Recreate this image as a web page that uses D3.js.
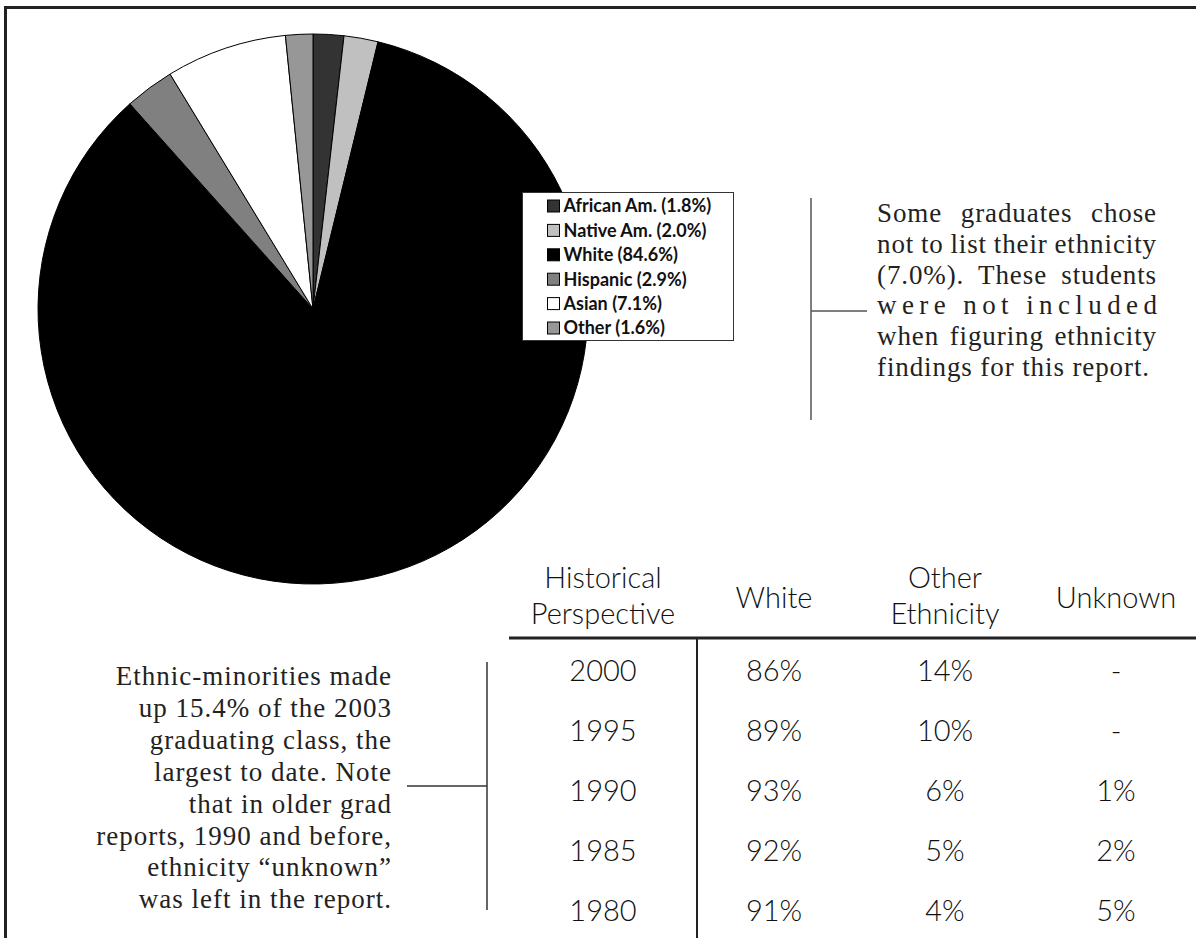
<!DOCTYPE html>
<html lang="en">
<head>
<meta charset="utf-8">
<title>Graduates by ethnicity</title>
<script src="https://d3js.org/d3.v7.min.js"></script>
<style>
  body { margin: 0; background: #fff; }
  svg { display: block; }
</style>
</head>
<body>
<script>
// pie data
var groups = ["African Am.", "Native Am.", "White", "Hispanic", "Asian", "Other"];
var shares = [1.8, 2.0, 84.6, 2.9, 7.1, 1.6];
var shades = ["#333333", "#c0c0c0", "#000000", "#808080", "#ffffff", "#979797"];

// historical table
var tableHead = [["Historical", "Perspective"], ["White"], ["Other", "Ethnicity"], ["Unknown"]];
var years = ["2000", "1995", "1990", "1985", "1980"];
var whitePct = ["86%", "89%", "93%", "92%", "91%"];
var otherPct = ["14%", "10%", "6%", "5%", "4%"];
var unknownPct = ["-", "-", "1%", "2%", "5%"];

var noteRight = ["Some graduates chose", "not to list their ethnicity", "(7.0%). These students",
  "were not included", "when figuring ethnicity", "findings for this report."];
var noteLeft = ["Ethnic-minorities made", "up 15.4% of the 2003", "graduating class, the",
  "largest to date. Note", "that in older grad", "reports, 1990 and before,",
  "ethnicity \u201cunknown\u201d", "was left in the report."];

var W = 1196, H = 938;
var ink = "#222";

var svg = d3.select("body").append("svg")
    .attr("width", W)
    .attr("height", H);

// frame (top and left edges only)
svg.append("path")
    .attr("d", "M5.5," + H + "V7.5H" + W)
    .attr("fill", "none")
    .attr("stroke", ink)
    .attr("stroke-width", 3);

// ---- pie ----
var pie = d3.pie().sort(null).value(function(d) { return d; });
var arc = d3.arc().innerRadius(0).outerRadius(275);

var pieG = svg.append("g").attr("transform", "translate(313,309)");
pieG.selectAll("path")
    .data(pie(shares))
    .enter().append("path")
    .attr("d", arc)
    .attr("fill", function(d, i) { return shades[i]; })
    .attr("stroke", "#000")
    .attr("stroke-width", 1);

// ---- legend ----
var leg = svg.append("g").attr("transform", "translate(522.5,192.5)");
leg.append("rect")
    .attr("width", 211)
    .attr("height", 148)
    .attr("fill", "#fff")
    .attr("stroke", "#333")
    .attr("stroke-width", 1);

var rowY = d3.scalePoint().domain(groups).range([13.5, 135.5]);
var item = leg.selectAll("g.item")
    .data(groups)
    .enter().append("g")
    .attr("class", "item")
    .attr("transform", function(d) { return "translate(0," + rowY(d) + ")"; });
item.append("rect")
    .attr("x", 25)
    .attr("y", -6)
    .attr("width", 12)
    .attr("height", 12)
    .attr("fill", function(d, i) { return shades[i]; })
    .attr("stroke", "#000")
    .attr("stroke-width", 1);
item.append("text")
    .attr("x", 41)
    .attr("dy", "0.36em")
    .attr("font-family", "Lato, 'Open Sans', sans-serif")
    .attr("font-weight", "bold")
    .attr("font-size", 18)
    .attr("fill", "#111")
    .text(function(d, i) { return d + " (" + shares[i].toFixed(1) + "%)"; });

// ---- right note ----
var connR = svg.append("g").attr("stroke", "#555").attr("stroke-width", 1.5);
connR.append("line").attr("x1", 811).attr("x2", 811).attr("y1", 198).attr("y2", 420);
connR.append("line").attr("x1", 811).attr("x2", 867).attr("y1", 311).attr("y2", 311);

var serif = "'Liberation Serif', 'Times New Roman', serif";
svg.append("g").selectAll("text")
    .data(noteRight)
    .enter().append("text")
    .attr("x", 877)
    .attr("y", function(d, i) { return 222 + i * 30.8; })
    .attr("font-family", serif)
    .attr("font-size", 27)
    .attr("letter-spacing", 0.9)
    .attr("fill", ink)
    .text(function(d) { return d; })
    .each(function(d, i) {
      // justify to the column width, last line left as is
      if (i === noteRight.length - 1) return;
      var t = d3.select(this);
      var natural = this.getComputedTextLength();
      var gaps = d.split(" ").length - 1;
      var extra = 280 - natural;
      if (extra / gaps > 25) {
        t.attr("letter-spacing", null).attr("textLength", 280).attr("lengthAdjust", "spacing");
      } else {
        t.attr("word-spacing", extra / gaps);
      }
    });

// ---- left note ----
var connL = svg.append("g").attr("stroke", "#333").attr("stroke-width", 1.5);
connL.append("line").attr("x1", 487).attr("x2", 487).attr("y1", 662).attr("y2", 910);
connL.append("line").attr("x1", 407).attr("x2", 487).attr("y1", 786).attr("y2", 786);

svg.append("g").selectAll("text")
    .data(noteLeft)
    .enter().append("text")
    .attr("x", 392)
    .attr("y", function(d, i) { return 685 + i * 31.9; })
    .attr("text-anchor", "end")
    .attr("font-family", serif)
    .attr("font-size", 27)
    .attr("letter-spacing", 1)
    .attr("fill", ink)
    .text(function(d) { return d; });

// ---- table ----
var colX = d3.scalePoint().domain(d3.range(4)).range([603, 1116]);
var rowBase = d3.scalePoint().domain(years).range([681, 921]);
var sans = "Lato, 'Open Sans', sans-serif";

var head = svg.append("g")
    .attr("font-family", sans)
    .attr("font-size", 29)
    .attr("font-weight", 300)
    .attr("fill", "#111")
    .attr("text-anchor", "middle");
tableHead.forEach(function(lines, c) {
  lines.forEach(function(s, k) {
    var y = lines.length === 1 ? 608 : 588 + k * 36;
    head.append("text").attr("x", colX(c)).attr("y", y).text(s);
  });
});

svg.append("line")
    .attr("x1", 509).attr("x2", W)
    .attr("y1", 638).attr("y2", 638)
    .attr("stroke", ink).attr("stroke-width", 3);
svg.append("line")
    .attr("x1", 697).attr("x2", 697)
    .attr("y1", 638).attr("y2", H)
    .attr("stroke", ink).attr("stroke-width", 2);

var cols = [years, whitePct, otherPct, unknownPct];
var body = svg.append("g")
    .attr("font-family", sans)
    .attr("font-size", 29)
    .attr("font-weight", 300)
    .attr("fill", "#111")
    .attr("text-anchor", "middle");
cols.forEach(function(vals, c) {
  body.selectAll(null)
      .data(vals)
      .enter().append("text")
      .attr("x", colX(c))
      .attr("y", function(d, r) { return rowBase(years[r]); })
      .text(function(d) { return d; });
});
</script>
</body>
</html>
